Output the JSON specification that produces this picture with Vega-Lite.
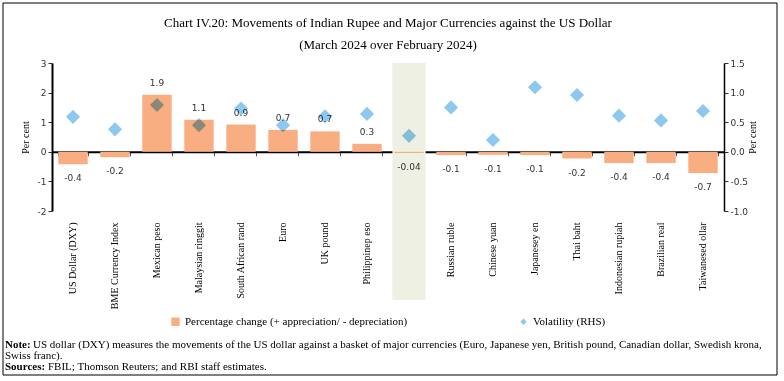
{
  "$schema": "https://vega.github.io/schema/vega-lite/v6.json",
  "autosize": "none",
  "width": 672,
  "height": 148,
  "padding": {"left": 52, "top": 63, "right": 60, "bottom": 170},
  "background": "white",
  "config": {"view": {"stroke": null}, "font": "Liberation Serif"},
  "title": {
    "text": ["Chart IV.20: Movements of Indian Rupee and Major Currencies against the US Dollar", "(March 2024 over February 2024)"],
    "font": "Liberation Serif",
    "fontSize": 13,
    "fontWeight": "normal",
    "color": "black",
    "anchor": "middle",
    "lineHeight": 22,
    "offset": -49
  },
  "datasets": {
    "fx": [
      {"currency": "US Dollar (DXY)", "pct": -0.42, "label": "-0.4", "vol": 0.59},
      {"currency": "BME Currency Index", "pct": -0.18, "label": "-0.2", "vol": 0.38},
      {"currency": "Mexican peso", "pct": 1.93, "label": "1.9", "vol": 0.79},
      {"currency": "Malaysian ringgit", "pct": 1.08, "label": "1.1", "vol": 0.45},
      {"currency": "South African rand", "pct": 0.92, "label": "0.9", "vol": 0.73},
      {"currency": "Euro", "pct": 0.74, "label": "0.7", "vol": 0.45},
      {"currency": "UK pound", "pct": 0.69, "label": "0.7", "vol": 0.6},
      {"currency": "Philippinep eso", "pct": 0.27, "label": "0.3", "vol": 0.64},
      {"currency": "Indian rupee", "pct": -0.04, "label": "-0.04", "vol": 0.27},
      {"currency": "Russian ruble", "pct": -0.11, "label": "-0.1", "vol": 0.75},
      {"currency": "Chinese yuan", "pct": -0.1, "label": "-0.1", "vol": 0.2},
      {"currency": "Japanesey en", "pct": -0.11, "label": "-0.1", "vol": 1.09},
      {"currency": "Thai baht", "pct": -0.23, "label": "-0.2", "vol": 0.96},
      {"currency": "Indonesian rupiah", "pct": -0.38, "label": "-0.4", "vol": 0.61},
      {"currency": "Brazilian real", "pct": -0.38, "label": "-0.4", "vol": 0.53},
      {"currency": "Taiwanesed ollar", "pct": -0.72, "label": "-0.7", "vol": 0.69}
    ],
    "notes": [
      {"head": "Note:", "body": "US dollar (DXY) measures the movements of the US dollar against a basket of major currencies (Euro, Japanese yen, British pound, Canadian dollar, Swedish krona,", "line": 1},
      {"head": "", "body": "Swiss franc).", "line": 2},
      {"head": "Sources:", "body": "FBIL; Thomson Reuters; and RBI staff estimates.", "line": 3}
    ]
  },
  "layer": [
    {
      "data": {"name": "fx"},
      "encoding": {
        "x": {
          "field": "currency",
          "type": "nominal",
          "sort": null,
          "scale": {"paddingInner": 0.3, "paddingOuter": 0.15},
          "axis": {
            "orient": "bottom",
            "title": null,
            "labelAngle": -90,
            "domain": false,
            "ticks": false,
            "labelPadding": 11,
            "labelFont": "Liberation Serif",
            "labelFontSize": 10,
            "labelColor": "black",
            "labelLimit": 200
          }
        },
        "y": {
          "field": "pct",
          "type": "quantitative",
          "scale": {"domain": [-2, 3], "nice": false, "zero": true},
          "axis": {
            "title": "Per cent",
            "titleFont": "Liberation Serif",
            "titleFontWeight": "normal",
            "titleFontSize": 10,
            "titleColor": "black",
            "titlePadding": 7,
            "values": [-2, -1, 0, 1, 2, 3],
            "labelExpr": "replace(datum.label, '\u2212', '-')",
            "labelFont": "DejaVu Sans",
            "labelFontSize": 9,
            "labelColor": "#333",
            "labelOverlap": false,
            "grid": false,
            "domainColor": "black",
            "domainWidth": 2,
            "tickColor": "#333",
            "tickSize": 4
          }
        }
      },
      "layer": [
        {
          "mark": {"type": "bar", "color": "#EEF0E3", "width": {"band": 1.13}},
          "encoding": {
            "y": {"value": 0},
            "y2": {"value": 237},
            "opacity": {"condition": {"test": "datum.currency === 'Indian rupee'", "value": 1}, "value": 0}
          }
        },
        {
          "mark": {"type": "bar"},
          "encoding": {
            "color": {
              "datum": "Percentage change (+ appreciation/ - depreciation)",
              "type": "nominal",
              "scale": {
                "domain": ["Percentage change (+ appreciation/ - depreciation)", "Volatility (RHS)"],
                "range": ["#F9AE82", "#8DC9EE"]
              },
              "legend": {
                "orient": "none",
                "legendX": 118,
                "legendY": 253,
                "direction": "horizontal",
                "title": null,
                "labelFont": "Liberation Serif",
                "labelFontSize": 11,
                "labelColor": "black",
                "labelLimit": 400,
                "columnPadding": 110,
                "symbolStrokeWidth": 0,
                "encode": {
                  "symbols": {
                    "update": {
                      "shape": {"signal": "datum.value === 'Volatility (RHS)' ? 'diamond' : 'square'"},
                      "size": {"signal": "datum.value === 'Volatility (RHS)' ? 40 : 70"}
                    }
                  }
                }
              }
            }
          }
        },
        {
          "transform": [{"filter": "datum.pct >= 0"}],
          "mark": {"type": "text", "font": "DejaVu Sans", "fontSize": 9, "color": "#333", "baseline": "middle", "dy": -12},
          "encoding": {"text": {"field": "label"}}
        },
        {
          "transform": [{"filter": "datum.pct < 0"}],
          "mark": {"type": "text", "font": "DejaVu Sans", "fontSize": 9, "color": "#333", "baseline": "middle", "dy": 14},
          "encoding": {"text": {"field": "label"}}
        }
      ]
    },
    {
      "data": {"name": "fx"},
      "mark": {"type": "point", "shape": "diamond", "filled": true, "size": 200, "opacity": 1, "blend": "multiply"},
      "encoding": {
        "x": {
          "field": "currency",
          "type": "nominal",
          "sort": null,
          "axis": {
            "orient": "bottom",
            "offset": -59.2,
            "title": null,
            "labels": false,
            "grid": false,
            "domainColor": "black",
            "domainWidth": 2,
            "tickColor": "#555",
            "tickSize": 4,
            "tickBand": "extent"
          }
        },
        "y": {
          "field": "vol",
          "type": "quantitative",
          "scale": {"domain": [-1, 1.5], "nice": false, "zero": true},
          "axis": {
            "orient": "right",
            "title": "Per cent",
            "titleAngle": -90,
            "titleFont": "Liberation Serif",
            "titleFontWeight": "normal",
            "titleFontSize": 10,
            "titleColor": "black",
            "titlePadding": 10,
            "values": [-1, -0.5, 0, 0.5, 1, 1.5],
            "format": ".1f",
            "labelExpr": "replace(datum.label, '\u2212', '-')",
            "labelFont": "DejaVu Sans",
            "labelFontSize": 9,
            "labelColor": "#333",
            "labelOverlap": false,
            "grid": false,
            "domainColor": "black",
            "domainWidth": 1.5,
            "tickColor": "#333",
            "tickSize": 4
          }
        },
        "color": {"datum": "Volatility (RHS)", "type": "nominal"}
      }
    },
    {
      "data": {"name": "notes"},
      "transform": [{"filter": "datum.head !== ''"}],
      "mark": {"type": "text", "font": "Liberation Serif", "fontSize": 11, "fontWeight": "bold", "align": "left", "baseline": "middle", "color": "black", "x": -47},
      "encoding": {
        "y": {"field": "line", "type": "quantitative", "scale": {"domain": [1, 3], "range": [282, 304]}, "axis": null},
        "text": {"field": "head"}
      }
    },
    {
      "data": {"name": "notes"},
      "transform": [{"filter": "datum.line === 1"}],
      "mark": {"type": "text", "font": "Liberation Serif", "fontSize": 11, "align": "left", "baseline": "middle", "color": "black", "x": -19, "y": 282},
      "encoding": {"text": {"field": "body"}}
    },
    {
      "data": {"name": "notes"},
      "transform": [{"filter": "datum.line === 2"}],
      "mark": {"type": "text", "font": "Liberation Serif", "fontSize": 11, "align": "left", "baseline": "middle", "color": "black", "x": -47, "y": 293},
      "encoding": {"text": {"field": "body"}}
    },
    {
      "data": {"name": "notes"},
      "transform": [{"filter": "datum.line === 3"}],
      "mark": {"type": "text", "font": "Liberation Serif", "fontSize": 11, "align": "left", "baseline": "middle", "color": "black", "x": -4, "y": 304},
      "encoding": {"text": {"field": "body"}}
    },
    {
      "data": {"values": [{}]},
      "mark": {"type": "rect", "fill": null, "stroke": "black", "strokeWidth": 1},
      "encoding": {
        "x": {"value": -49},
        "x2": {"value": 725},
        "y": {"value": -60},
        "y2": {"value": 312}
      }
    }
  ],
  "resolve": {"scale": {"y": "independent"}, "axis": {"x": "independent"}}
}
